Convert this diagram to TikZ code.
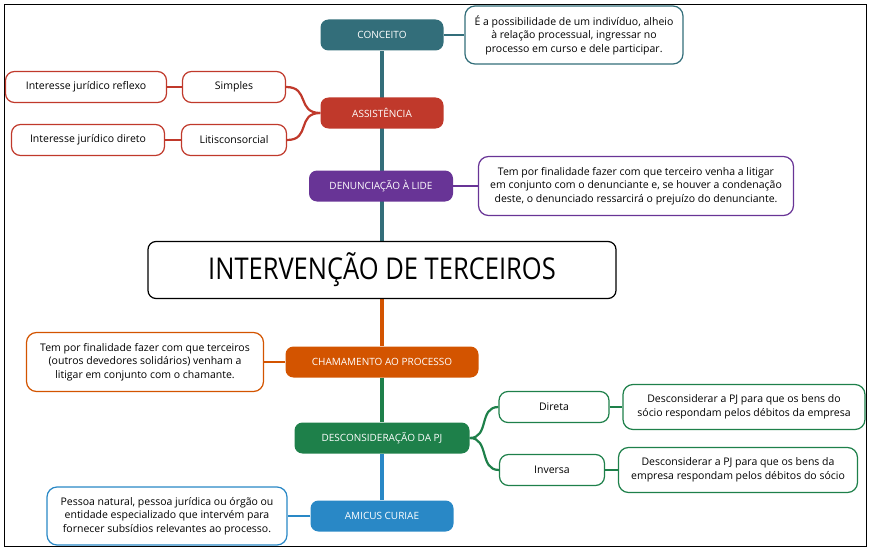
\documentclass[tikz,border=0pt]{standalone}
\usepackage{fontspec}
\usepackage{graphicx}
\setmainfont{Open Sans}
\usetikzlibrary{backgrounds}
\definecolor{myteal}{RGB}{51,110,122}
\definecolor{myred}{RGB}{192,57,43}
\definecolor{mypurple}{RGB}{104,52,150}
\definecolor{myorange}{RGB}{211,84,0}
\definecolor{mygreen}{RGB}{30,128,74}
\definecolor{myblue}{RGB}{41,136,198}
\newcommand{\topicheight}{31pt}
\tikzset{
    topic/.style={rounded corners=8pt, minimum height=\topicheight, inner sep=2pt, text=white, font=\fontsize{10}{12}\selectfont},
    sub/.style={draw, fill=white, rounded corners=9pt, line width=1.2pt, minimum height=\topicheight, inner sep=2pt, font=\fontsize{10.5}{12}\selectfont},
    note/.style={draw, fill=white, rounded corners=10pt, line width=1.2pt, inner sep=2pt, align=center, font=\fontsize{10.5}{13.5}\selectfont},
    theme/.style={draw, fill=white, rounded corners=8pt, line width=1.2pt, minimum width=468pt, minimum height=57pt, font=\fontsize{30}{30}\selectfont},
    link/.style={line width=2.2pt},
    spine/.style={line width=3.5pt}
}

\begin{document}
\begin{tikzpicture}[x=1pt, y=-1pt]
        \useasboundingbox (0,0) rectangle (871,551);
        \draw[line width=0.8pt] (4,4) rectangle (866,546);

        \node[theme] (tema) at (382,270) {\scalebox{0.85}[1]{INTERVENÇÃO DE TERCEIROS}};

        % above the theme
        \node[topic, fill=myteal, minimum width=123pt] (conceito) at (382,35) {CONCEITO};
        \node[note, draw=myteal, minimum width=218pt, minimum height=58pt] (conceitotxt) at (574,35) {É a possibilidade de um indivíduo, alheio\\à relação processual, ingressar no\\processo em curso e dele participar.};
        \node[topic, fill=myred, minimum width=123pt] (assist) at (382,113) {ASSISTÊNCIA};
        \node[sub, draw=myred, minimum width=103pt] (simples) at (234,87) {Simples};
        \node[sub, draw=myred, minimum width=161pt] (reflexo) at (86,87) {Interesse jurídico reflexo};
        \node[sub, draw=myred, minimum width=105pt] (litis) at (234,140) {Litisconsorcial};
        \node[sub, draw=myred, minimum width=153pt] (direto) at (88,140) {Interesse jurídico direto};
        \node[topic, fill=mypurple, minimum width=144pt] (denunc) at (381,186) {DENUNCIAÇÃO À LIDE};
        \node[note, draw=mypurple, minimum width=315pt, minimum height=59pt] (denunctxt) at (636,186) {Tem por finalidade fazer com que terceiro venha a litigar\\em conjunto com o denunciante e, se houver a condenação\\deste, o denunciado ressarcirá o prejuízo do denunciante.};

        % below the theme
        \node[topic, fill=myorange, minimum width=193pt] (chamam) at (382,362) {CHAMAMENTO AO PROCESSO};
        \node[note, draw=myorange, minimum width=237pt, minimum height=59pt] (chamamtxt) at (145,362) {Tem por finalidade fazer com que terceiros\\(outros devedores solidários) venham a\\litigar em conjunto com o chamante.};
        \node[topic, fill=mygreen, minimum width=175pt] (descons) at (382,438) {DESCONSIDERAÇÃO DA PJ};
        \node[sub, draw=mygreen, minimum width=110pt] (direta) at (554,407) {Direta};
        \node[note, draw=mygreen, minimum width=242pt, minimum height=45pt] (diretatxt) at (744,407) {Desconsiderar a PJ para que os bens do\\sócio respondam pelos débitos da empresa};
        \node[sub, draw=mygreen, minimum width=105pt] (inversa) at (552,470) {Inversa};
        \node[note, draw=mygreen, minimum width=239pt, minimum height=45pt] (inversatxt) at (738,470) {Desconsiderar a PJ para que os bens da\\empresa respondam pelos débitos do sócio};
        \node[topic, fill=myblue, minimum width=143pt] (amicus) at (382,516) {AMICUS CURIAE};
        \node[note, draw=myblue, minimum width=240pt, minimum height=58pt] (amicustxt) at (167,516) {Pessoa natural, pessoa jurídica ou órgão ou\\entidade especializado que intervém para\\fornecer subsídios relevantes ao processo.};

        \begin{scope}[on background layer]
            \draw[spine, myteal] (tema.north) -- (conceito.south);
            \draw[spine, myorange] (tema.south) -- (chamam.north);
            \draw[spine, mygreen] (chamam.south) -- (descons.north);
            \draw[spine, myblue] (descons.south) -- (amicus.north);

            \draw[link, myteal] (conceito.east) -- (conceitotxt.west);
            \draw[link, myred] (assist.west) .. controls +(-24,0) and +(24,0) .. (simples.east);
            \draw[link, myred] (assist.west) .. controls +(-24,0) and +(24,0) .. (litis.east);
            \draw[link, myred] (simples.west) -- (reflexo.east);
            \draw[link, myred] (litis.west) -- (direto.east);
            \draw[link, mypurple] (denunc.east) -- (denunctxt.west);
            \draw[link, myorange] (chamam.west) -- (chamamtxt.east);
            \draw[link, mygreen] (descons.east) .. controls +(20,0) and +(-20,0) .. (direta.west);
            \draw[link, mygreen] (descons.east) .. controls +(20,0) and +(-20,0) .. (inversa.west);
            \draw[link, mygreen] (direta.east) -- (diretatxt.west);
            \draw[link, mygreen] (inversa.east) -- (inversatxt.west);
            \draw[link, myblue] (amicus.west) -- (amicustxt.east);
        \end{scope}
    \end{tikzpicture}
\end{document}
